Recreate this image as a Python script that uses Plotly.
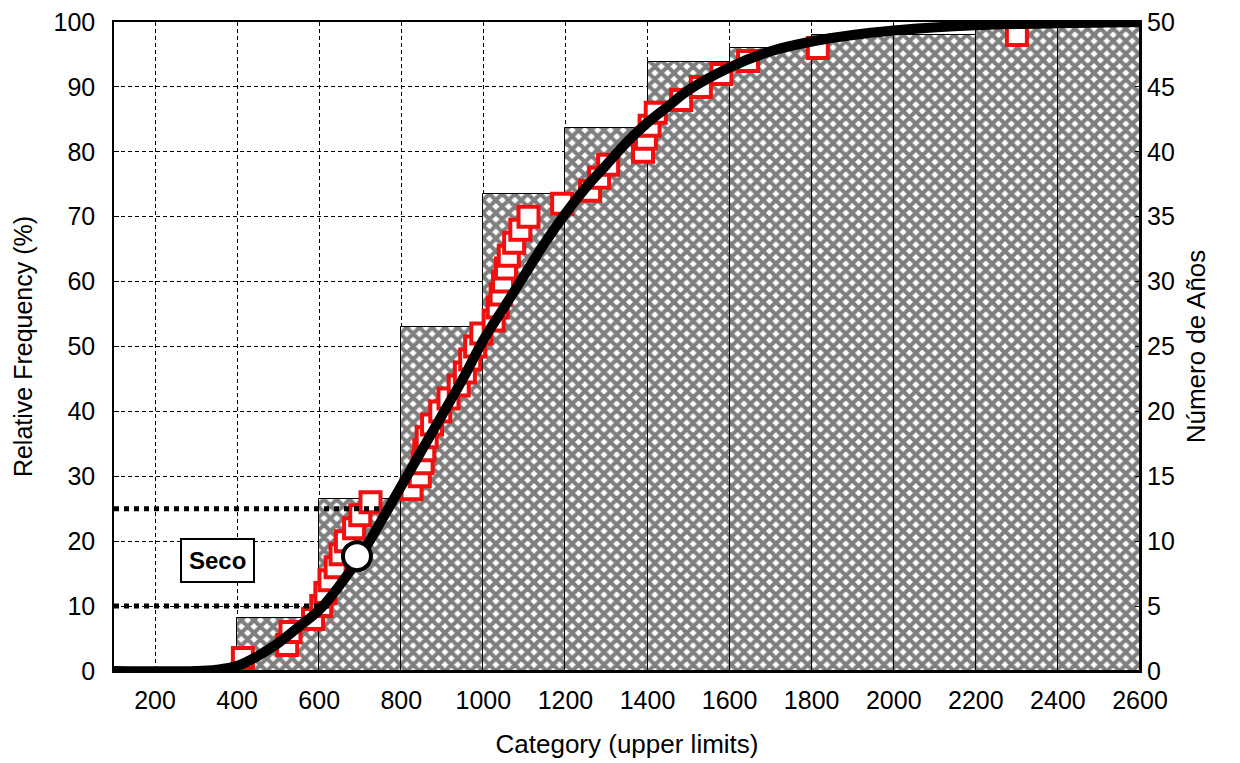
import plotly.graph_objects as go

# Class upper limits (mm) and cumulative number of years per class
bin_edges = [400, 600, 800, 1000, 1200, 1400, 1600, 1800, 2000, 2200, 2400, 2600]
cum_years = [4, 13, 26, 36, 41, 46, 47, 48, 48, 49, 49]
n_years = 49

# Ordered annual totals and their plotting positions (%)
obs_values = [414, 522, 530, 585, 605, 615, 625, 640, 652, 665, 685, 700, 725,
              825, 845, 852, 856, 862, 875, 895, 915, 940, 955, 968, 980, 995,
              1025, 1035, 1042, 1048, 1055, 1062, 1075, 1090, 1110, 1192,
              1260, 1282, 1304, 1389, 1396,
              1405, 1420, 1482, 1530, 1580,
              1645, 1815, 2300]
obs_freq = [2, 4, 6, 8, 10, 12, 14, 16, 18, 20, 22, 24, 26,
            28, 30, 32, 34, 36, 38, 40, 42, 44, 46, 48, 50, 52,
            54, 56, 58, 60, 62, 64, 66, 68, 70, 72,
            74, 76, 78, 80, 82,
            84, 86, 88, 90, 92,
            94, 96, 98]

# Fitted cumulative distribution
fit_x = [100, 300, 350, 400, 450, 500, 550, 600, 650, 700, 750, 800, 850, 900,
         950, 1000, 1050, 1100, 1150, 1200, 1250, 1300, 1350, 1400, 1450, 1500,
         1600, 1700, 1800, 1900, 2000, 2200, 2400, 2600]
fit_y = [0, 0, 0.2, 0.8, 2.3, 4.3, 6.8, 9.4, 13.2, 17.7, 23, 28.5, 34, 39.5,
         45, 51, 56, 61, 66, 70.5, 74.5, 78, 81.5, 84.5, 87, 89.5,
         93, 95.5, 97, 98, 98.7, 99.5, 99.8, 100]

# Dry-year thresholds (%) and where their guide lines end
dry_pct = [10, 25]
dry_end = [625, 758]

# Marked point on the fitted curve
dry_point_x = [692]
dry_point_y = [17.7]
seco_x, seco_y = 351, 17

centers = [(a + b) / 2 for a, b in zip(bin_edges[:-1], bin_edges[1:])]
widths = [b - a for a, b in zip(bin_edges[:-1], bin_edges[1:])]
rel_freq = [100 * c / n_years for c in cum_years]

FONT = "Liberation Sans, Arial, sans-serif"

fig = go.Figure()

fig.add_trace(go.Bar(
    x=centers, y=rel_freq, width=widths,
    marker=dict(color="white",
                line=dict(color="black", width=1),
                pattern=dict(shape="x", fgcolor="black", bgcolor="white",
                             size=9, solidity=0.7)),
    hoverinfo="skip",
))

# counts on the right-hand axis (keeps the axis bound to data)
fig.add_trace(go.Scatter(
    x=centers, y=cum_years, yaxis="y2", mode="markers",
    marker=dict(opacity=0), hoverinfo="skip",
))

fig.add_trace(go.Scatter(
    x=obs_values, y=obs_freq, mode="markers", cliponaxis=False,
    marker=dict(symbol="square", size=20, color="white",
                line=dict(color="#f01010", width=4)),
))

for p, xe in zip(dry_pct, dry_end):
    fig.add_trace(go.Scatter(
        x=[bin_edges[0] - 300, xe], y=[p, p], mode="lines",
        line=dict(color="black", width=5, dash="dot"),
    ))

fig.add_trace(go.Scatter(
    x=fit_x, y=fit_y, mode="lines", line_shape="spline",
    line=dict(color="black", width=10),
))

fig.add_trace(go.Scatter(
    x=dry_point_x, y=dry_point_y, mode="markers", cliponaxis=False,
    marker=dict(symbol="circle", size=28, color="white",
                line=dict(color="black", width=4)),
))

fig.add_annotation(
    x=seco_x, y=seco_y, text="<b>Seco</b>", showarrow=False,
    font=dict(family=FONT, size=24, color="black"),
    bgcolor="white", bordercolor="black", borderwidth=2, borderpad=7,
)

grid = dict(showgrid=True, gridcolor="black", gridwidth=1, griddash="4px,3px")

fig.update_layout(
    width=1240, height=763,
    margin=dict(l=114, r=100, t=22, b=92),
    paper_bgcolor="white", plot_bgcolor="white",
    showlegend=False, bargap=0,
    font=dict(family=FONT, size=25, color="black"),
    xaxis=dict(
        range=[100, 2600], tick0=200, dtick=200, **grid,
        showline=True, linecolor="black", linewidth=1.5, mirror=True,
        ticks="", ticklabelstandoff=6, zeroline=False, automargin=False,
        tickfont=dict(size=25),
        title=dict(text="Category (upper limits)", standoff=22,
                   font=dict(size=26)),
    ),
    yaxis=dict(
        range=[0, 100], dtick=10, **grid,
        showline=True, linecolor="black", linewidth=1.5, mirror=True,
        ticks="inside", ticklen=5, tickcolor="black",
        ticklabelstandoff=12, zeroline=False, automargin=False,
        tickfont=dict(size=25),
        title=dict(text="Relative Frequency (%)", standoff=14,
                   font=dict(size=25)),
    ),
    yaxis2=dict(
        range=[0, 50], dtick=5, overlaying="y", side="right",
        showgrid=False, zeroline=False, automargin=False,
        ticks="inside", ticklen=5, tickcolor="black",
        ticklabelstandoff=6, tickfont=dict(size=25),
        title=dict(text="Número de Años", standoff=12, font=dict(size=26)),
    ),
)

fig.write_html("out.html")
